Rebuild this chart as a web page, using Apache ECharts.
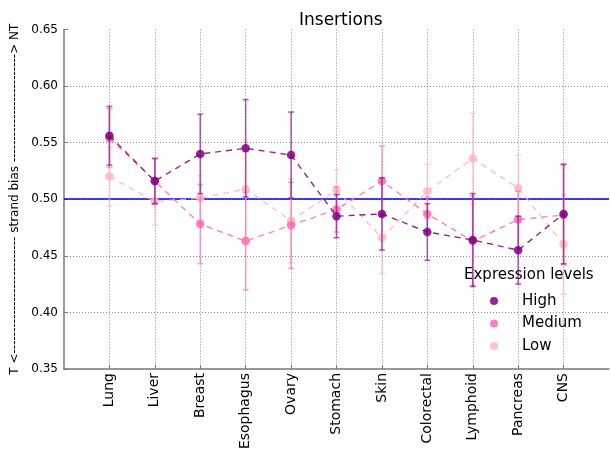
<!DOCTYPE html>
<html>
<head>
<meta charset="utf-8">
<script src="https://cdn.jsdelivr.net/npm/echarts@6/dist/echarts.min.js"></script>
<style>html,body{margin:0;padding:0;background:#fff}#c{width:610px;height:460px}</style>
</head>
<body>
<div id="c"></div>
<script>
const categories = ['Lung','Liver','Breast','Esophagus','Ovary','Stomach','Skin','Colorectal','Lymphoid','Pancreas','CNS'];
const highVals   = [0.556,0.516,0.540,0.545,0.539,0.485,0.487,0.471,0.464,0.455,0.487];
const highErr    = [0.026,0.020,0.035,0.043,0.038,0.019,0.032,0.025,0.041,0.030,0.044];
const mediumVals = [0.554,0.516,0.478,0.463,0.477,0.491,0.516,0.487,0.463,0.482,0.486];
const mediumErr  = [0.026,0.020,0.035,0.043,0.038,0.020,0.031,0.015,0.040,0.025,0.044];
const lowVals    = [0.520,0.498,0.501,0.509,0.481,0.508,0.466,0.507,0.536,0.510,0.460];
const lowErr     = [0.026,0.021,0.020,0.043,0.037,0.018,0.032,0.024,0.040,0.029,0.044];
const yTicks = [0.35,0.40,0.45,0.50,0.55,0.60,0.65];
const refValue = 0.5;

const xCats = [''].concat(categories).concat(['']);
const FONT = 'DejaVu Sans';
const colors = {High:'#800080', Medium:'#ff69b4', Low:'#ffb6c1'};
const groups = [
  {name:'High', vals:highVals, err:highErr},
  {name:'Medium', vals:mediumVals, err:mediumErr},
  {name:'Low', vals:lowVals, err:lowErr}
];

function errSeries(g, z) {
  const col = colors[g.name];
  return {
    type:'custom', name:g.name, z:z, silent:true,
    data: categories.map((c,i)=>[c, g.vals[i], g.err[i]]),
    encode:{x:0, y:1},
    renderItem: function(params, api){
      const x = api.value(0), y = api.value(1), e = api.value(2);
      const t = api.coord([x, y+e]), b = api.coord([x, y-e]);
      const w = 3;
      const st = {stroke:col, lineWidth:1.6, opacity:0.6};
      return {type:'group', children:[
        {type:'line', shape:{x1:t[0],y1:t[1],x2:b[0],y2:b[1]}, style:st},
        {type:'line', shape:{x1:t[0]-w,y1:t[1],x2:t[0]+w,y2:t[1]}, style:st},
        {type:'line', shape:{x1:b[0]-w,y1:b[1],x2:b[0]+w,y2:b[1]}, style:st}
      ]};
    }
  };
}
function lineSeries(g, z) {
  const col = colors[g.name];
  return {
    type:'line', name:g.name, z:z,
    data: categories.map((c,i)=>[c, g.vals[i]]),
    symbol:'circle', symbolSize:8.5,
    itemStyle:{color:col, opacity:0.85},
    lineStyle:{color:col, width:1.4, type:[6,5], opacity:0.85},
    emphasis:{disabled:true}
  };
}

const series = [];
groups.forEach((g,i)=>{ series.push(lineSeries(g, 10-i*2)); });
groups.forEach((g,i)=>{ series.push(errSeries(g, 9-i*2)); });
series[2].markLine = {
  silent:true, symbol:['none','none'], label:{show:false}, z:1,
  lineStyle:{color:'#0000ff', width:1.5, type:'solid', opacity:1},
  emphasis:{disabled:true},
  data:[{yAxis:refValue}]
};

const dashes = n => '-'.repeat(n);
const yName = 'T <' + dashes(27) + ' strand bias ' + dashes(25) + '> NT';

const chart = echarts.init(document.getElementById('c'), null, {renderer:'canvas'});
chart.setOption({
  animation:false,
  backgroundColor:'#fff',
  textStyle:{fontFamily:FONT},
  title:[
    {text:'Insertions', left:294, top:7, textStyle:{fontSize:17, fontWeight:'normal', color:'#000', fontFamily:FONT}},
    {text:'Expression levels', left:464, top:268, padding:0, textStyle:{fontSize:15, fontWeight:'normal', color:'#000', fontFamily:FONT}}
  ],
  legend:{
    data:['High','Medium','Low'].map(n=>({name:n, icon:'circle', itemStyle:{color:colors[n], opacity:0.85}})),
    orient:'vertical', left:490, top:293, padding:0,
    itemWidth:8, itemHeight:8, itemGap:6.5,
    textStyle:{fontSize:15, color:'#000', fontFamily:FONT, lineHeight:16, padding:[0,0,0,19]},
    selectedMode:false
  },
  grid:{left:64, right:1, top:29.4, bottom:91, containLabel:false},
  xAxis:{
    type:'category', data:xCats, boundaryGap:false,
    axisLine:{show:true, onZero:false, lineStyle:{color:'#777', width:1.5}},
    axisTick:{show:true, inside:true, length:4, lineStyle:{color:'#777'}, interval:(i)=>i>0&&i<xCats.length-1},
    axisLabel:{rotate:90, fontSize:14, color:'#000', margin:4, interval:(i)=>i>0&&i<xCats.length-1, fontFamily:FONT},
    splitLine:{show:true, lineStyle:{color:'#888', type:[1,2], width:1}, interval:(i)=>i>0&&i<xCats.length-1}
  },
  yAxis:{
    type:'value', min:yTicks[0], max:yTicks[yTicks.length-1], interval:0.05,
    name:yName, nameLocation:'middle', nameGap:39, nameRotate:90,
    nameTextStyle:{fontSize:12, color:'#000', fontFamily:FONT},
    axisLine:{show:true, lineStyle:{color:'#777', width:1.5}},
    axisTick:{show:true, inside:true, length:4, lineStyle:{color:'#777'}},
    axisLabel:{fontSize:12, color:'#000', margin:6, formatter:v=>v.toFixed(2), fontFamily:FONT},
    splitLine:{show:true, showMinLine:false, showMaxLine:false, lineStyle:{color:'#888', type:[1,2], width:1}}
  },
  series:series
});
</script>
</body>
</html>
